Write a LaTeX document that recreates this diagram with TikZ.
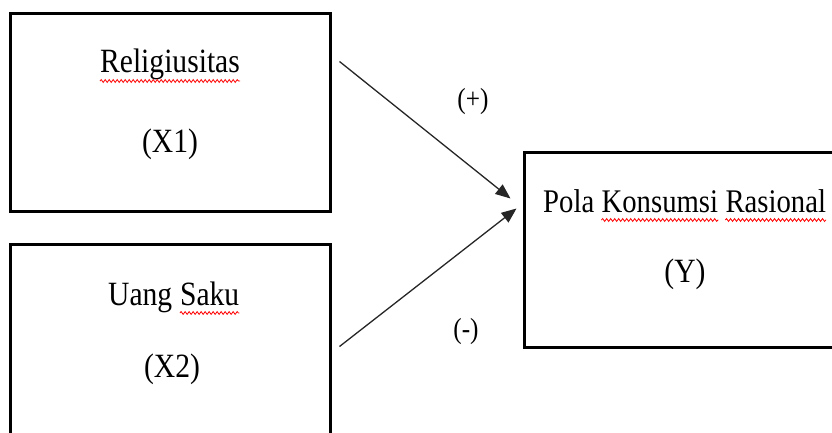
\documentclass[tikz,border=0pt]{standalone}
\usepackage{fontspec}
\setmainfont{Liberation Serif}[FakeStretch=0.87]
\usetikzlibrary{arrows.meta,calc,decorations.pathmorphing}

\begin{document}
\begin{tikzpicture}[x=1pt,y=-1pt,
  box/.style={draw=black,line width=3pt,inner sep=0pt},
  word/.style={inner sep=0pt,font=\fontsize{34}{40}\selectfont},
  yword/.style={inner sep=0pt,font=\fontsize{33}{40}\selectfont},
  sign/.style={inner sep=0pt,font=\fontsize{29}{34}\selectfont},
  link/.style={draw=black!85,line width=1.3pt,-{Triangle[length=15pt,width=12pt]}},
  spell/.style={draw=red,line width=0.8pt,decorate,
    decoration={snake,segment length=4pt,amplitude=1.4pt}}]
\useasboundingbox (0,0) rectangle (832,432);
\clip (0,0) rectangle (832,432);

% the three variable boxes
\node[box,minimum width=320pt,minimum height=198pt] (b1) at (170,112) {};
\node[box,minimum width=320pt,minimum height=216pt] (b2) at (170,352) {};
\node[box,minimum width=336pt,minimum height=195pt] (b3) at (692,249.5) {};

% box texts
\node[word,anchor=base] (rel) at (170,72) {Religiusitas};
\node[word,anchor=base] (x1) at (170,152) {(X1)};

\node[word,anchor=base west] (uang) at (108,305) {Uang};
\node[word,anchor=base west] (saku) at ($(uang.base east)+(7.4,0)$) {Saku};
\node[word,anchor=base] (x2) at (172,377) {(X2)};

\node[yword,anchor=base west] (pola) at (543,212) {Pola};
\node[yword,anchor=base west] (kons) at ($(pola.base east)+(7,0)$) {Konsumsi};
\node[yword,anchor=base west] (ras) at ($(kons.base east)+(7,0)$) {Rasional};
\node[word,anchor=base] (y) at (685,282) {(Y)};

% spell-check underlines
\draw[spell] ($(rel.base west)+(0,9)$) -- ($(rel.base east)+(0,9)$);
\draw[spell] ($(saku.base west)+(0,8)$) -- ($(saku.base east)+(0,8)$);
\draw[spell] ($(kons.base west)+(0,8)$) -- ($(kons.base east)+(0,8)$);
\draw[spell] ($(ras.base west)+(0,8)$) -- ($(ras.base east)+(0,8)$);

% connectors
\coordinate (s1) at ($(b1.north east)+(8,50)$);
\coordinate (e1) at ($(b3.north west)+(-12,48)$);
\coordinate (s2) at ($(b2.north east)+(8,104)$);
\coordinate (e2) at ($(b3.north west)+(-6,58)$);
\draw[link] (s1) -- (e1);
\draw[link] (s2) -- (e2);

% effect signs
\node[sign] (plus) at (473,102) {(+)};
\node[sign] (minus) at (466,332) {(-)};
\end{tikzpicture}
\end{document}
